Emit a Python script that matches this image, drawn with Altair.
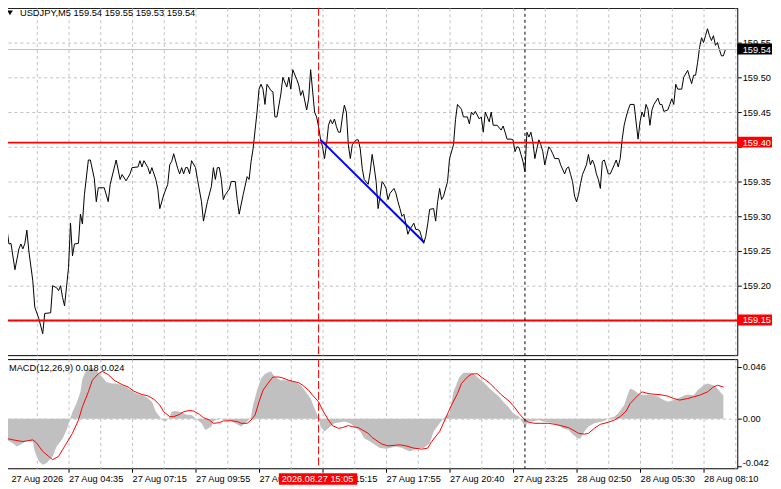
import altair as alt
import pandas as pd

# ---------------- texts ----------------
symbol_title = "USDJPY,M5  159.54 159.55 159.53 159.54"
macd_title = "MACD(12,26,9) 0.018 0.024"

# ---------------- price (M5 close, bar index) ----------------
bars = [
    0, 1, 2, 3, 5, 7, 8, 9, 10, 11,
    12, 14, 15, 17, 19, 20, 23, 24, 26, 27,
    28, 29, 30, 32, 33, 34, 35, 37, 38, 39,
    40, 42, 43, 45, 46, 47, 50, 52, 53, 56,
    58, 59, 61, 63, 64, 67, 68, 69, 70, 72,
    73, 74, 76, 77, 78, 80, 82, 83, 84, 85,
    87, 88, 89, 90, 91, 92, 93, 94, 96, 97,
    99, 100, 102, 104, 105, 106, 107, 108, 109, 110,
    111, 113, 114, 116, 117, 118, 120, 122, 123, 124,
    125, 127, 128, 129, 130, 131, 132, 134, 135, 136,
    137, 139, 140, 142, 143, 144, 145, 147, 148, 149,
    150, 152, 153, 154, 156, 157, 158, 159, 160, 161,
    162, 163, 164, 165, 166, 167, 168, 169, 170, 171,
    172, 173, 174, 175, 177, 178, 179, 180, 181, 183,
    184, 185, 186, 187, 188, 189, 190, 191, 192, 193,
    194, 196, 197, 198, 199, 200, 201, 202, 203, 204,
    206, 207, 208, 209, 210, 211, 212, 213, 214, 216,
    217, 218, 219, 220, 221, 223, 224, 226, 227, 228,
    230, 231, 233, 234, 235, 236, 237, 239, 240, 241,
    242, 244, 245, 246, 248, 250, 251, 252, 253, 255,
    256, 257, 258, 259, 260, 261, 262, 263, 264, 265,
    266, 267, 268, 269, 270, 271, 272, 274, 275, 276,
    277, 279, 280, 282, 283, 284, 285, 286, 287, 288,
    289, 290, 291, 293, 294, 295, 296, 297, 298, 299,
    300, 301, 302, 304, 305, 307, 308, 309, 310, 311,
    312, 313, 314, 315, 317, 318, 319, 320, 321, 322,
    323, 324, 325, 326, 327, 329, 330, 331, 332, 334,
    335, 336, 337, 338, 339, 341, 342, 344, 345, 346,
    347, 348, 349, 350, 351, 352, 353, 354, 355, 356,
    357, 358, 359, 360, 361, 362, 363,
]
close = [
    159.274, 159.281, 159.260, 159.261, 159.223, 159.253, 159.260, 159.253, 159.261, 159.280,
    159.250, 159.207, 159.169, 159.153, 159.131, 159.160, 159.161, 159.200, 159.197, 159.193,
    159.200, 159.183, 159.171, 159.226, 159.290, 159.243, 159.260, 159.261, 159.303, 159.289,
    159.331, 159.381, 159.381, 159.354, 159.321, 159.341, 159.341, 159.321, 159.346, 159.381,
    159.353, 159.360, 159.351, 159.361, 159.370, 159.371, 159.380, 159.371, 159.380, 159.370,
    159.361, 159.370, 159.353, 159.339, 159.311, 159.331, 159.346, 159.374, 159.379, 159.390,
    159.369, 159.361, 159.370, 159.361, 159.370, 159.370, 159.361, 159.380, 159.370, 159.353,
    159.321, 159.293, 159.321, 159.343, 159.370, 159.353, 159.370, 159.370, 159.353, 159.324,
    159.331, 159.339, 159.350, 159.350, 159.324, 159.303, 159.331, 159.357, 159.353, 159.379,
    159.397, 159.450, 159.483, 159.490, 159.483, 159.461, 159.490, 159.481, 159.479, 159.443,
    159.443, 159.476, 159.500, 159.486, 159.500, 159.483, 159.511, 159.497, 159.489, 159.474,
    159.481, 159.453, 159.469, 159.511, 159.450, 159.443, 159.429, 159.411, 159.400, 159.383,
    159.403, 159.431, 159.439, 159.433, 159.440, 159.429, 159.421, 159.421, 159.443, 159.460,
    159.450, 159.403, 159.383, 159.403, 159.410, 159.410, 159.397, 159.369, 159.353, 159.346,
    159.364, 159.389, 159.371, 159.350, 159.311, 159.329, 159.350, 159.346, 159.340, 159.324,
    159.333, 159.340, 159.333, 159.321, 159.311, 159.300, 159.303, 159.289, 159.274, 159.281,
    159.290, 159.281, 159.281, 159.279, 159.269, 159.261, 159.271, 159.289, 159.310, 159.311,
    159.293, 159.321, 159.340, 159.324, 159.329, 159.350, 159.383, 159.403, 159.439, 159.461,
    159.454, 159.443, 159.443, 159.433, 159.450, 159.446, 159.451, 159.440, 159.443, 159.421,
    159.450, 159.436, 159.450, 159.431, 159.431, 159.424, 159.430, 159.421, 159.411, 159.411,
    159.410, 159.393, 159.400, 159.399, 159.389, 159.379, 159.364, 159.421, 159.414, 159.421,
    159.407, 159.383, 159.397, 159.410, 159.403, 159.393, 159.374, 159.400, 159.396, 159.390,
    159.383, 159.383, 159.374, 159.361, 159.369, 159.371, 159.360, 159.350, 159.329, 159.321,
    159.331, 159.347, 159.360, 159.374, 159.389, 159.374, 159.381, 159.374, 159.361, 159.353,
    159.340, 159.379, 159.381, 159.361, 159.361, 159.374, 159.381, 159.371, 159.383, 159.411,
    159.431, 159.443, 159.453, 159.461, 159.461, 159.436, 159.411, 159.436, 159.450, 159.443,
    159.461, 159.454, 159.431, 159.453, 159.461, 159.470, 159.461, 159.461, 159.451, 159.453,
    159.461, 159.469, 159.461, 159.490, 159.483, 159.483, 159.500, 159.510, 159.500, 159.491,
    159.503, 159.503, 159.521, 159.543, 159.557, 159.550, 159.560, 159.570, 159.560, 159.553,
    159.560, 159.546, 159.550, 159.540, 159.531, 159.531, 159.540,
]

# ---------------- MACD histogram ----------------
hist_bars = [
    0, 4, 6, 9, 11, 14, 15, 17, 19, 21,
    24, 26, 29, 31, 33, 34, 36, 38, 39, 41,
    43, 44, 46, 49, 51, 54, 56, 59, 61, 64,
    66, 69, 71, 74, 76, 78, 79, 81, 83, 84,
    86, 89, 91, 94, 96, 99, 101, 104, 105, 108,
    110, 113, 115, 118, 119, 122, 124, 125, 127, 129,
    131, 134, 136, 139, 141, 144, 146, 149, 151, 154,
    156, 158, 159, 161, 164, 166, 169, 171, 174, 176,
    179, 181, 184, 186, 189, 192, 194, 197, 200, 204,
    206, 209, 211, 214, 216, 219, 221, 224, 226, 229,
    231, 234, 236, 239, 241, 244, 246, 249, 251, 254,
    256, 259, 261, 262, 264, 266, 269, 271, 274, 276,
    279, 281, 284, 286, 289, 290, 292, 294, 297, 299,
    302, 304, 307, 309, 312, 314, 315, 317, 319, 322,
    324, 327, 329, 332, 334, 337, 339, 342, 344, 347,
    349, 352, 354, 357, 359, 361, 362,
]
hist_vals = [
    -0.0178, -0.0216, -0.0245, -0.0216, -0.0196, -0.0202, -0.0289, -0.0377, -0.0406, -0.0391,
    -0.0333, -0.0245, -0.0178, -0.0099, 0.0009, 0.0061, 0.0134, 0.0237, 0.0353, 0.0427,
    0.0456, 0.0447, 0.0427, 0.0368, 0.0324, 0.0310, 0.0310, 0.0295, 0.0280, 0.0242,
    0.0222, 0.0207, 0.0193, 0.0149, 0.0061, 0.0018, -0.0012, -0.0026, 0.0018, 0.0061,
    0.0067, 0.0056, 0.0038, 0.0032, 0.0003, -0.0041, -0.0099, -0.0070, -0.0026, 0.0009,
    -0.0012, -0.0012, -0.0032, -0.0061, -0.0070, -0.0026, 0.0018, 0.0120, 0.0251, 0.0353,
    0.0397, 0.0418, 0.0368, 0.0339, 0.0339, 0.0339, 0.0324, 0.0295, 0.0251, 0.0178,
    0.0091, 0.0009, -0.0070, -0.0114, -0.0070, -0.0041, -0.0032, -0.0026, -0.0041, -0.0070,
    -0.0114, -0.0172, -0.0202, -0.0225, -0.0260, -0.0266, -0.0260, -0.0245, -0.0260, -0.0289,
    -0.0275, -0.0260, -0.0260, -0.0216, -0.0114, -0.0041, 0.0003, 0.0047, 0.0237, 0.0368,
    0.0406, 0.0406, 0.0397, 0.0353, 0.0324, 0.0272, 0.0237, 0.0193, 0.0149, 0.0096,
    0.0047, 0.0018, -0.0041, -0.0070, -0.0026, -0.0026, -0.0012, -0.0026, -0.0032, -0.0041,
    -0.0061, -0.0085, -0.0099, -0.0137, -0.0178, -0.0172, -0.0114, -0.0070, -0.0041, -0.0032,
    -0.0020, 0.0003, 0.0018, 0.0047, 0.0120, 0.0222, 0.0266, 0.0251, 0.0222, 0.0207,
    0.0213, 0.0207, 0.0193, 0.0164, 0.0149, 0.0164, 0.0178, 0.0202, 0.0213, 0.0207,
    0.0251, 0.0295, 0.0310, 0.0295, 0.0266, 0.0222, 0.0207,
]

# ---------------- MACD signal ----------------
sig_bars = [
    0, 4, 9, 14, 16, 19, 22, 24, 27, 30,
    34, 37, 39, 42, 44, 47, 49, 52, 55, 59,
    62, 65, 69, 72, 75, 78, 80, 83, 85, 88,
    90, 93, 95, 98, 100, 103, 105, 108, 110, 114,
    117, 119, 122, 124, 126, 128, 130, 133, 135, 138,
    140, 143, 145, 148, 150, 153, 155, 158, 160, 163,
    165, 168, 170, 173, 175, 178, 180, 183, 185, 188,
    190, 193, 199, 202, 206, 210, 213, 215, 219, 222,
    225, 228, 230, 233, 235, 238, 240, 244, 247, 250,
    254, 257, 259, 262, 264, 267, 270, 274, 277, 280,
    284, 287, 289, 292, 294, 297, 300, 304, 307, 310,
    313, 315, 319, 321, 324, 327, 330, 334, 337, 340,
    344, 347, 350, 354, 357, 359, 362,
]
sig_vals = [
    -0.0172, -0.0187, -0.0202, -0.0187, -0.0216, -0.0289, -0.0333, -0.0362, -0.0333, -0.0245,
    -0.0129, -0.0012, 0.0105, 0.0237, 0.0339, 0.0397, 0.0418, 0.0389, 0.0339, 0.0301,
    0.0280, 0.0242, 0.0213, 0.0202, 0.0172, 0.0120, 0.0061, 0.0018, 0.0018, 0.0038,
    0.0061, 0.0073, 0.0067, 0.0038, 0.0009, -0.0012, -0.0041, -0.0035, -0.0020, -0.0018,
    -0.0026, -0.0041, -0.0041, -0.0012, 0.0032, 0.0149, 0.0251, 0.0324, 0.0368, 0.0368,
    0.0359, 0.0339, 0.0330, 0.0318, 0.0295, 0.0251, 0.0207, 0.0149, 0.0076, -0.0012,
    -0.0061, -0.0085, -0.0079, -0.0061, -0.0070, -0.0079, -0.0099, -0.0129, -0.0167, -0.0202,
    -0.0225, -0.0240, -0.0231, -0.0240, -0.0260, -0.0269, -0.0260, -0.0202, -0.0114, 0.0003,
    0.0120, 0.0222, 0.0310, 0.0368, 0.0394, 0.0397, 0.0368, 0.0318, 0.0266, 0.0213,
    0.0155, 0.0096, 0.0047, -0.0012, -0.0032, -0.0041, -0.0041, -0.0041, -0.0050, -0.0061,
    -0.0079, -0.0108, -0.0129, -0.0137, -0.0129, -0.0085, -0.0050, -0.0032, -0.0012, 0.0018,
    0.0067, 0.0134, 0.0207, 0.0237, 0.0222, 0.0216, 0.0213, 0.0199, 0.0178, 0.0164,
    0.0178, 0.0193, 0.0207, 0.0237, 0.0280, 0.0295, 0.0280,
]

# ---------------- annotations ----------------
level_prices = [159.406, 159.15]
level_labels = ["159.40", "159.15"]
bid_price = [159.54]
bid_label = ["159.54"]
trend_bars = [159, 211]
trend_prices = [159.410, 159.263]
event_bar = [158]
event_label = ["2026.08.27 15:05"]
separator_bar = [262]

time_tick_bars = [0, 32, 64, 96, 128, 160, 192, 224, 256, 288, 320, 352]
time_tick_labels = ["27 Aug 2026", "27 Aug 04:35", "27 Aug 07:15", "27 Aug 09:55",
                    "27 Aug 12:35", "27 Aug 15:15", "27 Aug 17:55", "27 Aug 20:40",
                    "27 Aug 23:25", "28 Aug 02:50", "28 Aug 05:30", "28 Aug 08:10"]
time_grid_bars = [16 * i for i in range(24)]
price_ticks = [159.15, 159.20, 159.25, 159.30, 159.35, 159.40, 159.45, 159.50, 159.55]
macd_ticks = [-0.042, 0.0, 0.046]
macd_tick_labels = ["-0.042", "0.00", "0.046"]

# ---------------- style ----------------
W, H1, H2 = 739, 350, 110
GRID = "#c0c0c0"
FONT = "Liberation Sans"
FS = 9.3

xs = alt.Scale(domain=[-0.5, 369], nice=False, zero=False)
ps = alt.Scale(domain=[159.10, 159.60], nice=False, zero=False)
ms = alt.Scale(domain=[-0.0438, 0.0526], nice=False, zero=False)

price_df = pd.DataFrame({"bar": bars, "value": close})
hist_df = pd.DataFrame({"bar": hist_bars, "value": hist_vals})
sig_df = pd.DataFrame({"bar": sig_bars, "value": sig_vals})
level_df = pd.DataFrame({"value": level_prices, "label": level_labels})
bid_df = pd.DataFrame({"value": bid_price, "label": bid_label})
trend_df = pd.DataFrame({"bar": trend_bars, "value": trend_prices})
event_df = pd.DataFrame({"bar": event_bar, "label": event_label})
sep_df = pd.DataFrame({"bar": separator_bar})
title_df = pd.DataFrame({"t": [symbol_title]})
macd_title_df = pd.DataFrame({"t": [macd_title]})

tick_js = "[" + ",".join(str(b) for b in time_tick_bars) + "]"
lab_js = "[" + ",".join("'" + s + "'" for s in time_tick_labels) + "]"
x_label_expr = f"indexof({tick_js}, datum.value) >= 0 ? {lab_js}[indexof({tick_js}, datum.value)] : ''"
mt_js = "[" + ",".join(repr(v) for v in macd_ticks) + "]"
ml_js = "[" + ",".join("'" + s + "'" for s in macd_tick_labels) + "]"
y_macd_expr = f"{ml_js}[indexof({mt_js}, datum.value)]"
# price-axis labels left to the level boxes, which show the same value on top
hidden_js = "[" + ",".join(repr(v) for v in [159.15, 159.40]) + "]"
y_price_expr = f"indexof({hidden_js}, datum.value) >= 0 ? '' : format(datum.value, '.2f')"

x_grid_axis = alt.Axis(values=[b for b in time_grid_bars if b > 0], grid=True, gridColor=GRID,
                       gridDash=[3, 3], labels=False, ticks=False, domain=False, title=None)
x_bottom_axis = alt.Axis(
    values=time_grid_bars, grid=True,
    gridColor={"condition": {"test": "datum.value > 0", "value": GRID}, "value": "transparent"},
    gridDash=[3, 3], labelExpr=x_label_expr, labelAlign="left", labelPadding=2,
    labelOffset={"condition": {"test": "datum.value === 0", "value": 6}, "value": 0},
    labelOverlap=False, labelFlush=False, ticks=True, tickSize=4,
    tickColor={"condition": {"test": f"indexof({tick_js}, datum.value) >= 0", "value": "black"},
               "value": "transparent"},
    domain=False, title=None)
y_price_axis = alt.Axis(orient="right", values=price_ticks, labelExpr=y_price_expr, grid=True,
                        gridColor=GRID, gridDash=[3, 3], tickSize=4, tickColor="black",
                        labelPadding=1, domain=False, title=None, labelOverlap=False)
y_macd_axis = alt.Axis(orient="right", values=macd_ticks, labelExpr=y_macd_expr, grid=True,
                       gridColor={"condition": {"test": "datum.value === 0", "value": GRID},
                                  "value": "transparent"},
                       labelOffset={"condition": {"test": "datum.value < 0", "value": -4}, "value": 0},
                       gridDash=[3, 3], tickSize=4, tickColor="black", labelPadding=1,
                       domain=False, title=None, labelOverlap=False)


def XM():
    return alt.X("bar:Q", scale=xs, axis=x_grid_axis, title=None)


def YM():
    return alt.Y("value:Q", scale=ps, axis=y_price_axis, title=None)


def XB():
    return alt.X("bar:Q", scale=xs, axis=x_bottom_axis, title=None)


def YB():
    return alt.Y("value:Q", scale=ms, axis=y_macd_axis, title=None)


# ---------------- main panel ----------------
price_line = alt.Chart(price_df).mark_line(color="black", strokeWidth=1, clip=True).encode(
    x=XM(), y=YM())
bid_rule = alt.Chart(bid_df).mark_rule(color="#c0c0c0", strokeWidth=1).encode(y=YM())
level_rules = alt.Chart(level_df).mark_rule(color="#ff0000", strokeWidth=2).encode(y=YM())
trend_line = alt.Chart(trend_df).mark_line(color="#0000ff", strokeWidth=2).encode(x=XM(), y=YM())
event_rule = alt.Chart(event_df).mark_rule(color="#ff0000", strokeWidth=1, strokeDash=[8, 3]).encode(x=XM())
sep_rule = alt.Chart(sep_df).mark_rule(color="black", strokeWidth=1, strokeDash=[3, 3]).encode(x=XM())
level_boxes = alt.Chart(level_df).mark_rect(color="#ff0000", yOffset=-6, y2Offset=5).encode(
    x=alt.value(W), x2=alt.value(W + 35), y=YM(), y2=alt.Y2("value:Q"))
bid_box = alt.Chart(bid_df).mark_rect(color="#000000", yOffset=-6, y2Offset=5).encode(
    x=alt.value(W), x2=alt.value(W + 35), y=YM(), y2=alt.Y2("value:Q"))
box_text = alt.Chart(pd.concat([level_df, bid_df])).mark_text(
    align="left", baseline="middle", color="white", font=FONT, fontSize=FS).encode(
    x=alt.value(W + 5.5), y=YM(), text="label:N")
tri = alt.Chart(title_df).mark_point(shape="triangle-down", filled=True, size=32,
                                     color="black", opacity=1).encode(
    x=alt.value(6), y=alt.value(5))
title_text = alt.Chart(title_df).mark_text(
    align="left", baseline="middle", color="black", font=FONT, fontSize=9.4).encode(
    x=alt.value(16), y=alt.value(5.5), text="t:N")

main = alt.layer(price_line, bid_rule, level_rules, trend_line, event_rule, sep_rule,
                 level_boxes, bid_box, box_text, tri, title_text).properties(width=W, height=H1)

# ---------------- MACD panel ----------------
hist_area = alt.Chart(hist_df).mark_area(color="#c0c0c0", clip=True, opacity=1).encode(
    x=XB(), y=YB(), y2=alt.datum(0))
sig_line = alt.Chart(sig_df).mark_line(color="#ff0000", strokeWidth=1, clip=True).encode(
    x=XB(), y=YB())
event_rule2 = alt.Chart(event_df).mark_rule(color="#ff0000", strokeWidth=1, strokeDash=[8, 3]).encode(x=XB())
sep_rule2 = alt.Chart(sep_df).mark_rule(color="black", strokeWidth=1, strokeDash=[3, 3]).encode(x=XB())
macd_text = alt.Chart(macd_title_df).mark_text(
    align="left", baseline="middle", color="black", font=FONT, fontSize=FS).encode(
    x=alt.value(5), y=alt.value(8.5), text="t:N")
date_box = alt.Chart(event_df).mark_rect(color="#ff0000", xOffset=-40, x2Offset=39).encode(
    x=XB(), x2=alt.X2("bar:Q"), y=alt.value(H2 + 5), y2=alt.value(H2 + 16.5))
date_text = alt.Chart(event_df).mark_text(
    align="center", baseline="middle", color="white", font=FONT, fontSize=FS, dx=-1).encode(
    x=XB(), y=alt.value(H2 + 11), text="label:N")

macd = alt.layer(hist_area, sig_line, event_rule2, sep_rule2, macd_text,
                 date_box, date_text).properties(width=W, height=H2)

chart = alt.vconcat(main, macd, spacing=2).properties(
    padding={"left": -6, "top": -3, "right": 0, "bottom": 0},
    background="white",
).configure_view(stroke="black", strokeWidth=1).configure_axis(
    labelFont=FONT, labelFontSize=FS, labelColor="black")

chart.save("out.html", embed_options={"renderer": "svg", "actions": False})
